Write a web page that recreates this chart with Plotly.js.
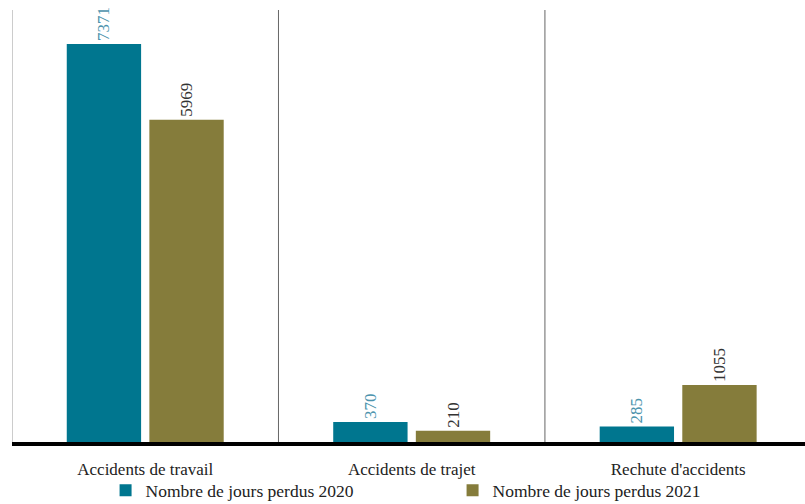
<!DOCTYPE html>
<html>
<head>
<meta charset="utf-8">
<script src="https://cdn.plot.ly/plotly-3.0.1.min.js"></script>
<style>html,body{margin:0;padding:0;background:#fff;}#chart{width:805px;height:504px;}</style>
</head>
<body>
<div id="chart"></div>
<script>
const categories = ["Accidents de travail", "Accidents de trajet", "Rechute d'accidents"];
const seriesNames = ["Nombre de jours perdus 2020", "Nombre de jours perdus 2021"];
const values2020 = [7371, 370, 285];
const values2021 = [5969, 210, 1055];

const serif = "'Liberation Serif', 'DejaVu Serif', serif";
const idx = categories.map((c, i) => i);

const traces = [
  {
    type: "bar", name: seriesNames[0], x: idx, y: values2020,
    marker: {color: "#00768F"},
    text: values2020.map(String), textposition: "outside", textangle: -90,
    textfont: {family: serif, size: 17, color: "#4C93AD"},
    cliponaxis: false, hoverinfo: "skip"
  },
  {
    type: "bar", name: seriesNames[1], x: idx, y: values2021,
    marker: {color: "#857C3B"},
    text: values2021.map(String), textposition: "outside", textangle: -90,
    textfont: {family: serif, size: 17, color: "#333333"},
    cliponaxis: false, hoverinfo: "skip"
  }
];

const sepShapes = [-0.5, 0.5, 1.5].map((xv, i) => ({
  type: "line", xref: "x", yref: "paper", x0: xv, x1: xv, y0: 0, y1: 1,
  line: {color: i === 0 ? "#999999" : "#666666", width: 1}, layer: "below"
}));

const layout = {
  width: 805, height: 504,
  margin: {l: 12, r: 0, t: 10, b: 62, autoexpand: false},
  paper_bgcolor: "#ffffff", plot_bgcolor: "#ffffff",
  barmode: "group", bargap: 0.38, bargroupgap: 0.1,
  showlegend: true,
  legend: {
    orientation: "h", xref: "paper", x: 0.118, xanchor: "left",
    yref: "container", y: 0.027, yanchor: "middle",
    bgcolor: "rgba(0,0,0,0)",
    font: {family: serif, size: 17.5, color: "#222222"},
    entrywidth: 302, itemwidth: 30, traceorder: "normal"
  },
  xaxis: {
    range: [-0.5, 2.476], tickvals: idx, ticktext: categories,
    tickfont: {family: serif, size: 17, color: "#222222"},
    ticklabelstandoff: 9,
    showgrid: false, zeroline: false, ticks: "",
    showline: true, linecolor: "#000000", linewidth: 4, fixedrange: true
  },
  yaxis: {
    range: [0, 8000], showgrid: false, zeroline: false, showticklabels: false,
    showline: false, ticks: "", fixedrange: true
  },
  shapes: sepShapes
};

Plotly.newPlot("chart", traces, layout, {displayModeBar: false, staticPlot: true});
</script>
</body>
</html>
